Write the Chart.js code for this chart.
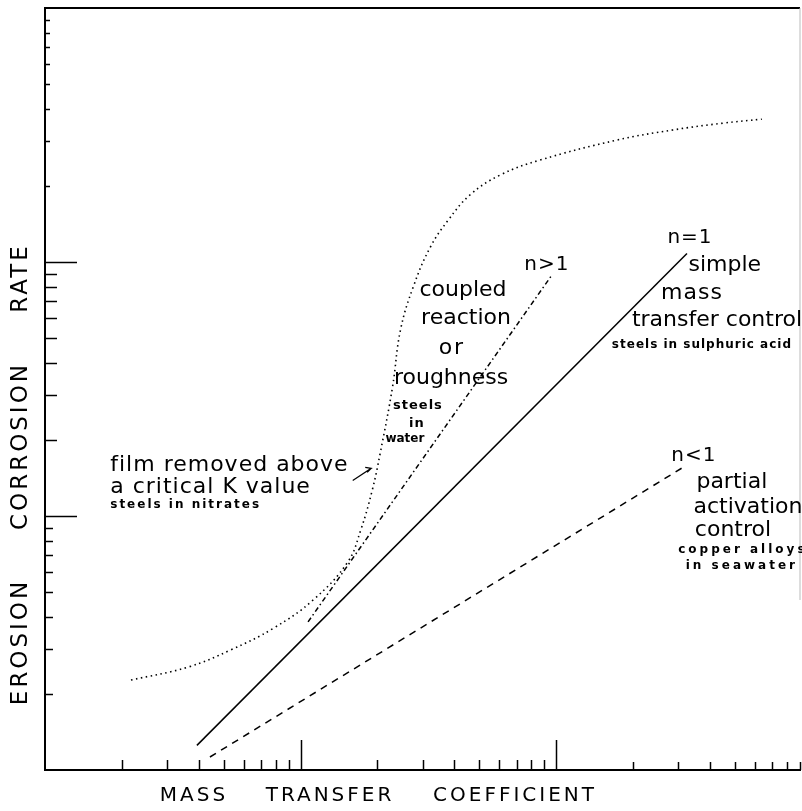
<!DOCTYPE html>
<html>
<head>
<meta charset="utf-8">
<title>Erosion corrosion rate vs mass transfer coefficient</title>
<script src="https://cdn.jsdelivr.net/npm/chart.js@4.4.1/dist/chart.umd.min.js"></script>
<style>
  html, body { margin: 0; padding: 0; background: #fff; }
  #wrap { position: relative; width: 802px; height: 811px; }
</style>
</head>
<body>
<div id="wrap"><canvas id="chart"></canvas></div>
<script>
// Film removed above a critical K value (dotted curve)
const filmX = [2.17, 3.62, 5.33, 7.85, 11.2, 15.3, 17.2, 19.1, 20.5, 22.9, 24.6, 27.6, 32.2, 37.8, 46.1, 60.4, 86.6, 173, 286, 449, 638];
const filmY = [2.26, 2.54, 2.97, 3.62, 4.67, 6.59, 8.81, 12.7, 17.7, 32.2, 54.0, 79.8, 114.5, 146, 184, 220, 252, 302, 331, 352, 365];

// n>1 coupled reaction or roughness (dash-dot)
const coupledX = [10.7, 96.3];
const coupledY = [3.83, 88.9];

// n=1 simple mass transfer control (solid)
const simpleX = [3.93, 325];
const simpleY = [1.25, 108];

// n<1 partial activation control (dashed)
const partialX = [4.42, 319];
const partialY = [1.125, 15.7];

// Axis tick marks (log decades)
const xMinorTicks = [2, 3, 4, 5, 6, 7, 8, 9, 20, 30, 40, 50, 60, 70, 80, 90];
const xFarTicks = [200, 300, 400, 500, 600, 700, 800, 900];
const xMajorTicks = [10, 100];
const yLowTicks = [2, 3, 4, 5, 6, 7, 8, 9];
const yMidTicks = [20, 30, 40, 50, 60, 70, 80, 90];
const yTopTicks = [200, 300, 400, 500, 600, 700, 800, 900];
const yMajorTicks = [10, 100];

const FONT = '"DejaVu Sans", sans-serif';

// Annotations, placed in data units
const notes = [
    { text: 'coupled', x: 43.2, y: 77.6, size: 22, sp: 0 },
    { text: 'reaction', x: 44.4, y: 60.2, size: 22, sp: 0 },
    { text: 'or', x: 39.1, y: 45.9, size: 22, sp: 2 },
    { text: 'roughness', x: 38.8, y: 34.9, size: 22, sp: 0 },
    { text: 'steels', x: 28.8, y: 27.1, size: 13, sp: 1, bold: true },
    { text: 'in', x: 28.5, y: 23.2, size: 13, sp: 1, bold: true },
    { text: 'water', x: 25.6, y: 20.1, size: 12, sp: 0, bold: true },
    { text: 'n>1', x: 92.0, y: 97.3, size: 20, sp: 1 },
    { text: 'n=1', x: 334, y: 124, size: 20, sp: 1 },
    { text: 'simple', x: 457, y: 97.3, size: 22, sp: 0 },
    { text: 'mass', x: 340, y: 75.5, size: 22, sp: 1 },
    { text: 'transfer control', x: 426, y: 59.1, size: 22, sp: 0 },
    { text: 'steels in sulphuric acid', x: 372, y: 47.1, size: 12, sp: 1, bold: true },
    { text: 'n<1', x: 346, y: 17.2, size: 20, sp: 1 },
    { text: 'partial', x: 487, y: 13.6, size: 22, sp: 0 },
    { text: 'activation', x: 563, y: 10.8, size: 22, sp: 0 },
    { text: 'control', x: 492, y: 8.81, size: 22, sp: 0 },
    { text: 'copper alloys', x: 538, y: 7.35, size: 12, sp: 3, bold: true },
    { text: 'in seawater', x: 533, y: 6.36, size: 12, sp: 3, bold: true },
    { text: 'film removed above', x: 1.80, y: 15.9, size: 22, sp: 1, align: 'left' },
    { text: 'a critical K value', x: 1.80, y: 13.0, size: 22, sp: 1, align: 'left' },
    { text: 'steels in nitrates', x: 1.80, y: 11.1, size: 12, sp: 2, bold: true, align: 'left' }
];

function toPoints(xs, ys) {
    return xs.map((x, i) => ({ x: x, y: ys[i] }));
}

function lineSet(label, xs, ys, dash, width) {
    return {
        label: label,
        data: toPoints(xs, ys),
        borderColor: '#000',
        borderWidth: width,
        borderDash: dash,
        pointRadius: 0,
        fill: false
    };
}

// Draws inward ticks, frame, titles and notes
const paperPlugin = {
    id: 'paper',
    afterDraw(chart) {
        const { ctx, chartArea: a, scales } = chart;
        const sx = scales.x, sy = scales.y;
        ctx.save();

        // top frame and faint right frame
        ctx.strokeStyle = '#000';
        ctx.lineWidth = 2;
        ctx.beginPath();
        ctx.moveTo(a.left, a.top);
        ctx.lineTo(a.right, a.top);
        ctx.stroke();
        ctx.strokeStyle = '#bbb';
        ctx.lineWidth = 1;
        ctx.beginPath();
        ctx.moveTo(a.right, a.top);
        ctx.lineTo(a.right, 600);
        ctx.stroke();

        ctx.strokeStyle = '#000';
        ctx.lineWidth = 1.5;
        const tick = (vals, len, axis) => {
            vals.forEach(v => {
                ctx.beginPath();
                if (axis === 'x') {
                    const p = Math.round(sx.getPixelForValue(v)) + 0.5;
                    ctx.moveTo(p, a.bottom);
                    ctx.lineTo(p, a.bottom - len);
                } else {
                    const p = Math.round(sy.getPixelForValue(v)) + 0.5;
                    ctx.moveTo(a.left, p);
                    ctx.lineTo(a.left + len, p);
                }
                ctx.stroke();
            });
        };
        tick(xMinorTicks, 10, 'x');
        tick(xFarTicks, 8, 'x');
        tick(xMajorTicks, 30, 'x');
        tick(yLowTicks, 8, 'y');
        tick(yMidTicks, 12, 'y');
        tick(yTopTicks, 5, 'y');
        tick(yMajorTicks, 32, 'y');

        // arrow from "film removed above" to the curve
        const ax0 = sx.getPixelForValue(16.0), ay0 = sy.getPixelForValue(13.8);
        const ax1 = sx.getPixelForValue(18.9), ay1 = sy.getPixelForValue(15.4);
        ctx.lineWidth = 1.2;
        ctx.beginPath();
        ctx.moveTo(ax0, ay0);
        ctx.lineTo(ax1, ay1);
        ctx.lineTo(ax1 - 6, ay1 - 1);
        ctx.moveTo(ax1, ay1);
        ctx.lineTo(ax1 - 4, ay1 + 4);
        ctx.stroke();

        // notes
        ctx.fillStyle = '#000';
        ctx.textBaseline = 'middle';
        notes.forEach(n => {
            ctx.font = (n.bold ? 'bold ' : '') + n.size + 'px ' + FONT;
            ctx.letterSpacing = n.sp + 'px';
            ctx.textAlign = n.align || 'center';
            ctx.fillText(n.text, sx.getPixelForValue(n.x), sy.getPixelForValue(n.y));
        });

        // axis titles
        ctx.font = '20px ' + FONT;
        ctx.letterSpacing = '3px';
        ctx.textAlign = 'center';
        [['MASS', 194], ['TRANSFER', 330], ['COEFFICIENT', 515]].forEach(w => {
            ctx.fillText(w[0], w[1], 796);
        });
        ctx.translate(21, 0);
        ctx.rotate(-Math.PI / 2);
        ctx.font = '23px ' + FONT;
        [['EROSION', 642], ['CORROSION', 446], ['RATE', 278]].forEach(w => {
            ctx.fillText(w[0], -w[1], 0);
        });
        ctx.restore();
    }
};

new Chart(document.getElementById('chart'), {
    type: 'line',
    data: {
        datasets: [
            Object.assign(lineSet('film removed', filmX, filmY, [1.5, 3.5], 1.6), { tension: 0.4 }),
            lineSet('n>1', coupledX, coupledY, [5, 3, 1.5, 3], 1.5),
            lineSet('n=1', simpleX, simpleY, [], 1.5),
            lineSet('n<1', partialX, partialY, [7, 6], 1.5)
        ]
    },
    options: {
        responsive: true,
        maintainAspectRatio: false,
        animation: false,
        layout: { padding: { left: 45, right: 2, top: 8, bottom: 41 } },
        plugins: {
            legend: { display: false },
            tooltip: { enabled: false }
        },
        scales: {
            x: {
                type: 'logarithmic',
                min: 1,
                max: 900,
                grid: { display: false },
                ticks: { display: false },
                border: { display: true, color: '#000', width: 2 },
                afterFit(s) { s.height = 0; }
            },
            y: {
                type: 'logarithmic',
                min: 1,
                max: 1000,
                grid: { display: false },
                ticks: { display: false },
                border: { display: true, color: '#000', width: 2 },
                afterFit(s) { s.width = 0; }
            }
        }
    },
    plugins: [paperPlugin]
});
</script>
</body>
</html>
